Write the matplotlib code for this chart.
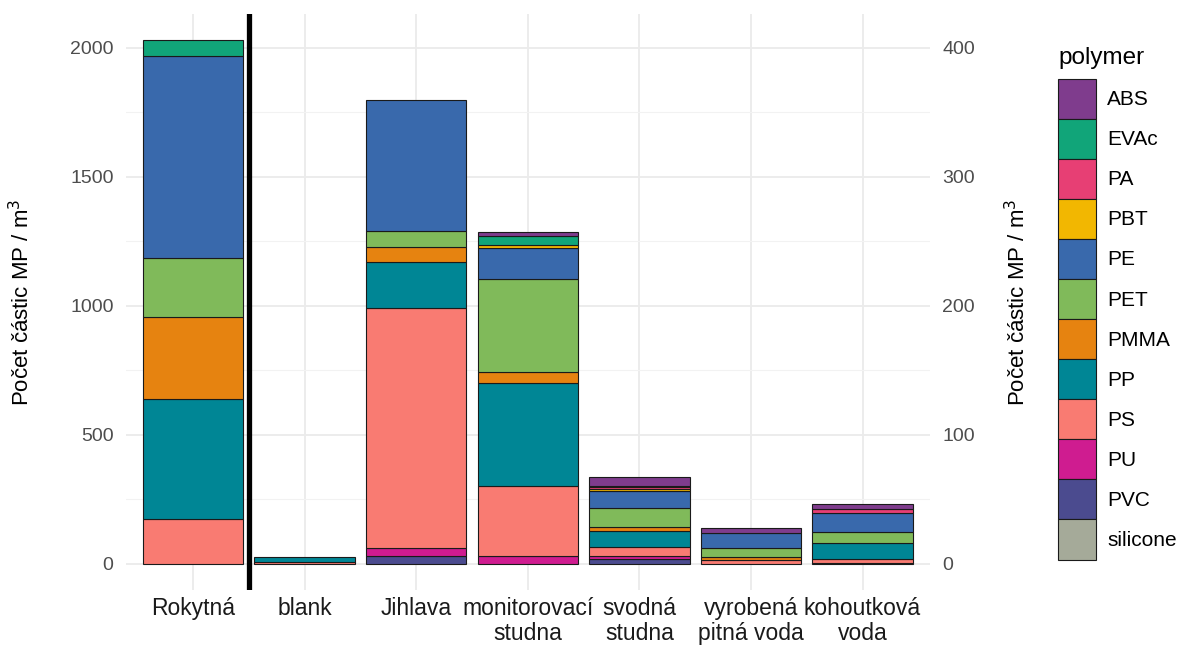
import matplotlib
matplotlib.use("Agg")
import matplotlib.pyplot as plt
from matplotlib.patches import Patch
from matplotlib.ticker import MultipleLocator, FixedLocator
import numpy as np

plt.rcParams["font.family"] = ["Liberation Sans", "DejaVu Sans"]

sites = ["Rokytná", "blank", "Jihlava", "monitorovací\nstudna", "svodná\nstudna",
         "vyrobená\npitná voda", "kohoutková\nvoda"]
# Rokytná is on the left axis, everything else on the right axis (1:5)
site_scale = [1, 5, 5, 5, 5, 5, 5]

polymers = ["ABS", "EVAc", "PA", "PBT", "PE", "PET", "PMMA", "PP", "PS", "PU", "PVC", "silicone"]
colors = ["#7F3C8D", "#11A579", "#E73F74", "#F2B701", "#3969AC", "#80BA5A",
          "#E68310", "#008695", "#F97B72", "#CF1C90", "#4B4B8F", "#A5AA99"]

# particles per m3, one value per site
abs_ = [0, 0, 0, 2.5, 6.7, 3.9, 3.3]
evac = [60, 0, 0, 7.0, 1.2, 0, 0]
pa = [0, 0, 0, 0, 1.2, 0, 3.4]
pbt = [0, 0, 0, 2.5, 1.8, 0, 0]
pe = [783, 0, 102, 24, 13.0, 12.2, 14.8]
pet = [230, 0, 12, 72, 15.0, 6.9, 8.5]
pmma = [317, 0, 12, 9, 2.6, 2.3, 0]
pp = [465, 3.8, 36, 80, 12.7, 0, 12.6]
ps = [175, 1.1, 186, 54, 6.7, 2.8, 2.5]
pu = [0, 0, 6, 6, 2.6, 0, 0]
pvc = [0, 0, 6, 0, 3.6, 0, 0.9]
silicone = [0, 0, 0, 0, 0, 0, 0]

values = [abs_, evac, pa, pbt, pe, pet, pmma, pp, ps, pu, pvc, silicone]

fig = plt.figure(figsize=(11.78, 6.5), dpi=100)
ax = fig.add_axes([126 / 1178, 1 - 590 / 650, (929.5 - 126) / 1178, (590 - 14) / 650])

x = np.arange(len(sites))
scale = np.array(site_scale, dtype=float)
bottom = np.zeros(len(sites))
# ggplot stacks the first level on top, so draw from the last one up
for name, col, vals in reversed(list(zip(polymers, colors, values))):
    h = np.array(vals, dtype=float) * scale
    m = h > 0
    ax.bar(x[m], h[m], bottom=bottom[m], width=0.9, color=col,
           edgecolor="#1a1a1a", linewidth=0.8, zorder=3)
    bottom += h

# separator between the left-axis site and the right-axis sites
ax.axvline(0.5, color="black", lw=3.8, zorder=4)

ax.set_xlim(-0.6, 6.6)
ax.set_ylim(-101.5, 2131.5)
ax.yaxis.set_major_locator(FixedLocator([0, 500, 1000, 1500, 2000]))
ax.yaxis.set_minor_locator(FixedLocator([250, 750, 1250, 1750]))
ax.set_xticks(x)
ax.set_xticklabels(sites, fontsize=16.5, color="#1a1a1a", linespacing=1.12)
ax.tick_params(axis="both", which="both", length=0)
ax.tick_params(axis="y", labelsize=14, labelcolor="#4d4d4d", pad=9)
ax.tick_params(axis="x", pad=5)
ax.grid(True, which="major", color="#ebebeb", lw=1.3, zorder=0)
ax.grid(True, which="minor", axis="y", color="#f2f2f2", lw=0.8, zorder=0)
ax.set_axisbelow(True)
for s in ax.spines.values():
    s.set_visible(False)

ylab = "Počet částic MP / m$^3$"
ax.set_ylabel(ylab, fontsize=16, labelpad=26)

sec = ax.secondary_yaxis("right", functions=(lambda y: y / 5, lambda y: y * 5))
sec.yaxis.set_major_locator(FixedLocator([0, 100, 200, 300, 400]))
sec.yaxis.set_minor_locator(FixedLocator([]))
sec.tick_params(length=0, labelsize=14, labelcolor="#4d4d4d", pad=9)
sec.spines["right"].set_visible(False)
sec.set_ylabel(ylab, fontsize=16, labelpad=22)

fig.text(1058 / 1178, 1 - 58 / 650, "polymer", fontsize=17.5, va="center", ha="left")
handles = [Patch(facecolor=c, edgecolor="#1a1a1a", linewidth=0.8) for c in colors]
fig.legend(handles, polymers, loc="upper left", bbox_to_anchor=(1058 / 1178, 1 - 79 / 650),
           frameon=False, fontsize=15, handlelength=1.8, handleheight=2.58,
           labelspacing=0.0, handletextpad=0.55, borderpad=0, borderaxespad=0)

fig.savefig("out.png", dpi=100, facecolor="white")
